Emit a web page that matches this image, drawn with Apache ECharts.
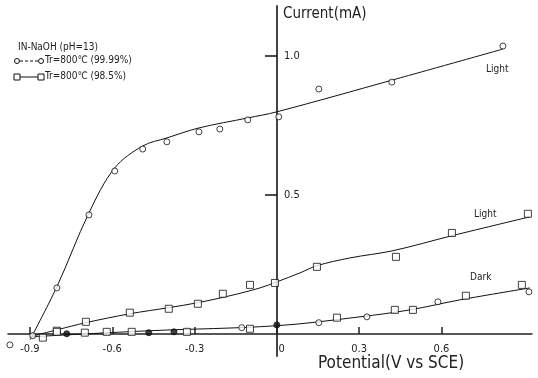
<!DOCTYPE html>
<html>
<head>
<meta charset="utf-8">
<script src="https://cdn.jsdelivr.net/npm/echarts@6/dist/echarts.min.js"></script>
<style>
  html, body { margin: 0; padding: 0; background: #fff; }
  #chart { width: 538px; height: 378px; }
</style>
</head>
<body>
<div id="chart"></div>
<script>
// tick labels
const potentialTicks = [-0.9, -0.6, -0.3, 0, 0.3, 0.6];
const currentTicks = [0.5, 1.0];

// 99.99% sample, light (circles)
const lightCircleV = [-0.973, -0.89, -0.802, -0.685, -0.591, -0.489, -0.401, -0.284, -0.208, -0.106, 0.007, 0.153, 0.419, 0.824];
const lightCircleI = [-0.04, -0.007, 0.165, 0.428, 0.586, 0.665, 0.691, 0.727, 0.737, 0.77, 0.781, 0.881, 0.906, 1.036];
const lightCircleFitV = [-0.9, -0.802, -0.685, -0.591, -0.489, -0.401, -0.284, -0.106, 0, 0.423, 0.824];
const lightCircleFitI = [-0.022, 0.169, 0.435, 0.597, 0.676, 0.705, 0.741, 0.777, 0.799, 0.914, 1.025];

// 98.5% sample, light (squares)
const lightSquareV = [-0.802, -0.696, -0.536, -0.394, -0.288, -0.197, -0.098, -0.007, 0.146, 0.434, 0.638, 0.915];
const lightSquareI = [0.011, 0.043, 0.076, 0.09, 0.108, 0.144, 0.176, 0.183, 0.241, 0.277, 0.363, 0.432];
const lightSquareFitV = [-0.9, -0.802, -0.696, -0.536, -0.394, -0.288, -0.171, -0.062, 0, 0.084, 0.146, 0.266, 0.423, 0.638, 0.922];
const lightSquareFitI = [-0.011, 0.014, 0.04, 0.072, 0.094, 0.112, 0.137, 0.165, 0.187, 0.219, 0.245, 0.273, 0.299, 0.353, 0.421];

// dark
const darkCircleV = [-0.128, 0.153, 0.328, 0.587, 0.919];
const darkCircleI = [0.022, 0.04, 0.061, 0.115, 0.151];
const darkSquareV = [-0.853, -0.802, -0.7, -0.62, -0.529, -0.328, -0.098, 0.219, 0.43, 0.496, 0.689, 0.893];
const darkSquareI = [-0.014, 0.007, 0.004, 0.007, 0.007, 0.007, 0.018, 0.058, 0.086, 0.086, 0.137, 0.176];
const darkDotV = [-0.766, -0.467, -0.375, 0];
const darkDotI = [0, 0.004, 0.007, 0.032];
const darkFitV = [-0.9, -0.463, 0, 0.303, 0.485, 0.667, 0.922];
const darkFitI = [-0.011, 0.011, 0.029, 0.061, 0.086, 0.122, 0.165];

const zip = (xs, ys) => xs.map((x, i) => [x, ys[i]]);
const font = '"DejaVu Sans Condensed", "Liberation Sans Narrow", sans-serif';
const ink = '#111';

const chart = echarts.init(document.getElementById('chart'));

function fitLine(xs, ys) {
  return {
    type: 'line', data: zip(xs, ys), smooth: 0.35, showSymbol: false,
    lineStyle: { color: ink, width: 1 }, z: 2, silent: true
  };
}
function marks(xs, ys, symbol, size, fill) {
  return {
    type: 'scatter', data: zip(xs, ys), symbol: symbol, symbolSize: size,
    itemStyle: { color: fill, borderColor: ink, borderWidth: 1 }, z: 3
  };
}

// axes cross at (0, 0): x axis sits 22px above the grid bottom, y axis 269px right of grid left
chart.setOption({
  animation: false,
  backgroundColor: '#fff',
  grid: { left: 8, right: 6, top: 6, bottom: 22 },
  xAxis: {
    type: 'value', min: -0.98, max: 0.93, position: 'bottom', offset: -22,
    axisLine: { onZero: false, lineStyle: { color: '#222', width: 1.5 } },
    axisTick: { customValues: potentialTicks, length: 7, inside: true, lineStyle: { color: '#222', width: 1.5 } },
    axisLabel: {
      customValues: potentialTicks, margin: 10, color: '#222', fontFamily: font, fontSize: 11,
      formatter: v => v === 0 ? '   0' : v.toFixed(1)
    },
    splitLine: { show: false }
  },
  yAxis: {
    type: 'value', min: -0.08, max: 1.18, position: 'left', offset: -269,
    axisLine: { onZero: false, lineStyle: { color: '#444', width: 2 } },
    axisTick: { customValues: currentTicks, length: 12, lineStyle: { color: '#111', width: 1.5 } },
    axisLabel: {
      customValues: currentTicks, inside: true, margin: 7, color: '#222', fontFamily: font, fontSize: 11,
      formatter: v => v.toFixed(1)
    },
    splitLine: { show: false }
  },
  series: [
    fitLine(lightCircleFitV, lightCircleFitI),
    fitLine(lightSquareFitV, lightSquareFitI),
    fitLine(darkFitV, darkFitI),
    marks(lightCircleV, lightCircleI, 'circle', 6, '#fff'),
    marks(lightSquareV, lightSquareI, 'rect', 7, '#fff'),
    marks(darkCircleV, darkCircleI, 'circle', 6, '#fff'),
    marks(darkSquareV, darkSquareI, 'rect', 7, '#fff'),
    marks(darkDotV, darkDotI, 'circle', 6, ink)
  ],
  graphic: [
    { type: 'text', left: 283, top: 7, style: { text: 'Current(mA)', font: '15px ' + font, fill: '#222' } },
    { type: 'text', left: 318, top: 355, style: { text: 'Potential(V vs SCE)', font: '17px ' + font, fill: '#222' } },
    { type: 'text', left: 486, top: 64, style: { text: 'Light', font: '10px ' + font, fill: '#222' } },
    { type: 'text', left: 474, top: 209, style: { text: 'Light', font: '10px ' + font, fill: '#222' } },
    { type: 'text', left: 470, top: 272, style: { text: 'Dark', font: '10px ' + font, fill: '#222' } },
    { type: 'text', left: 18, top: 42, style: { text: 'IN-NaOH (pH=13)', font: '10px ' + font, fill: '#222' } },
    { type: 'circle', shape: { cx: 17, cy: 61, r: 2.5 }, style: { fill: '#fff', stroke: ink, lineWidth: 1 } },
    { type: 'line', shape: { x1: 20, y1: 61, x2: 38, y2: 61 }, style: { stroke: ink, lineWidth: 1, lineDash: [3, 2] } },
    { type: 'circle', shape: { cx: 41, cy: 61, r: 2.5 }, style: { fill: '#fff', stroke: ink, lineWidth: 1 } },
    { type: 'text', left: 45, top: 55, style: { text: 'Tr=800\u2103 (99.99%)', font: '10px ' + font, fill: '#222' } },
    { type: 'rect', shape: { x: 14, y: 74, width: 6, height: 6 }, style: { fill: '#fff', stroke: ink, lineWidth: 1 } },
    { type: 'line', shape: { x1: 20, y1: 77, x2: 38, y2: 77 }, style: { stroke: ink, lineWidth: 1 } },
    { type: 'rect', shape: { x: 38, y: 74, width: 6, height: 6 }, style: { fill: '#fff', stroke: ink, lineWidth: 1 } },
    { type: 'text', left: 45, top: 71, style: { text: 'Tr=800\u2103 (98.5%)', font: '10px ' + font, fill: '#222' } }
  ]
});
</script>
</body>
</html>
